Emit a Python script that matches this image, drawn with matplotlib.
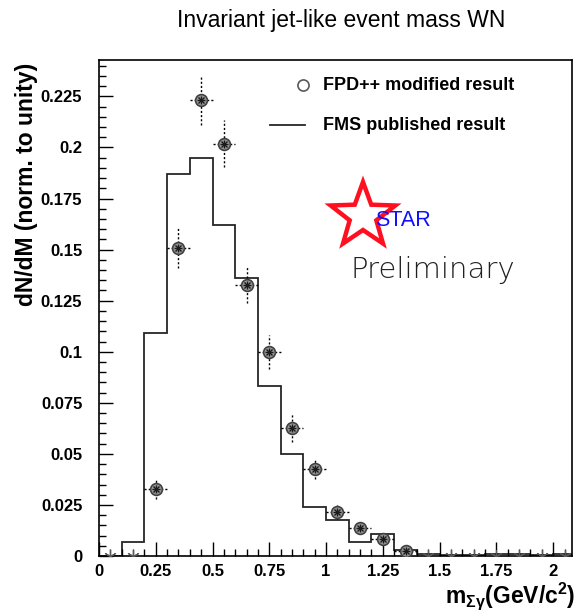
import numpy as np
import matplotlib
matplotlib.use("Agg")
import matplotlib.pyplot as plt
from matplotlib.ticker import MultipleLocator, FormatStrFormatter
from matplotlib.patches import Polygon

plt.rcParams['font.family'] = ['Liberation Sans', 'DejaVu Sans']
plt.rcParams['mathtext.fontset'] = 'custom'
plt.rcParams['mathtext.rm'] = 'Liberation Sans'
plt.rcParams['mathtext.it'] = 'Liberation Sans:italic'
plt.rcParams['mathtext.bf'] = 'Liberation Sans:bold'

# FMS published histogram, bins of 0.1 GeV/c^2 from 0 to 2.1
fms_edges = np.round(np.arange(0.0, 2.11, 0.1), 2)
fms_values = [0.0, 0.007, 0.109, 0.187, 0.195, 0.162, 0.136, 0.083, 0.050, 0.024,
              0.0175, 0.007, 0.0108, 0.003, 0.001, 0.0005, 0.0003, 0.001, 0.0012,
              0.0003, 0.0008]

# FPD++ modified result, bin centres with non-zero content
fpd_mass = [0.25, 0.35, 0.45, 0.55, 0.65, 0.75, 0.85, 0.95, 1.05, 1.15, 1.25, 1.35]
fpd_value = [0.0326, 0.151, 0.2232, 0.2018, 0.1328, 0.0997, 0.0625, 0.0427,
             0.0214, 0.0136, 0.0085, 0.0023]
fpd_err = [0.0049, 0.0101, 0.0120, 0.0116, 0.0090, 0.0084, 0.0068, 0.0050,
           0.0034, 0.0029, 0.0028, 0.0015]

# empty FPD++ bins sit on the axis
empty_mass = [0.05, 0.15, 1.45, 1.55, 1.65, 1.75, 1.85, 1.95, 2.05]
empty_value = [0.0] * len(empty_mass)

fig = plt.figure(figsize=(5.78, 6.14), dpi=100)
ax = fig.add_axes([99 / 578, 1 - 556 / 614, 473 / 578, 496 / 614])

ax.stairs(fms_values, fms_edges, color='0.15', lw=1.3, baseline=0)

# dotted error crosses
eb = ax.errorbar(fpd_mass, fpd_value, yerr=fpd_err, xerr=0.05, fmt='none',
                 ecolor='black', elinewidth=1.0, capsize=0)
for lc in eb[2]:
    lc.set_linestyle((0, (1.5, 1.5)))
ax.plot(fpd_mass, fpd_value, 'o', ms=8.5, mfc='0.6', mec='0.25', mew=1.2, zorder=4)
ax.plot(fpd_mass, fpd_value, 'x', ms=5, color='0.1', mew=1.0, zorder=5)
ax.plot(fpd_mass, fpd_value, '+', ms=6, color='0.1', mew=1.0, zorder=5)
ax.plot(empty_mass, empty_value, marker=(6, 2, 0), ls='none', ms=9,
        color='0.35', mew=0.8, zorder=3)

ax.set_xlim(0, 2.083)
ax.set_ylim(0, 0.2428)
ax.xaxis.set_major_locator(MultipleLocator(0.25))
ax.xaxis.set_minor_locator(MultipleLocator(0.05))
ax.yaxis.set_major_locator(MultipleLocator(0.025))
ax.yaxis.set_minor_locator(MultipleLocator(0.005))
ax.xaxis.set_major_formatter(FormatStrFormatter('%g'))
ax.yaxis.set_major_formatter(FormatStrFormatter('%g'))
ax.tick_params(which='both', direction='in', top=False, right=False)
ax.tick_params(which='major', length=10, width=1)
ax.tick_params(which='minor', length=5, width=1)
ax.tick_params(axis='x', pad=6)
ax.tick_params(axis='y', pad=12)
for lab in ax.get_xticklabels() + ax.get_yticklabels():
    lab.set_fontweight('bold')
    lab.set_fontsize(12)
for sp in ax.spines.values():
    sp.set_linewidth(1.2)

ax.set_ylabel('dN/dM (norm. to unity)', fontsize=16.5, fontweight='bold', loc='top')
ax.yaxis.set_label_coords(-0.128, 0.995)
fig.text(575 / 578, 1 - 603 / 614, r'm$_{\mathbf{\Sigma\gamma}}$(GeV/c$^{\mathbf{2}}$)',
         fontsize=16.5, fontweight='bold', ha='right', va='baseline')

fig.text(341 / 578, 1 - 20 / 614, 'Invariant jet-like event mass WN',
         fontsize=16.5, ha='center', va='center')

# legend
ax.plot([(303 - 99) / 473], [(556 - 85) / 496], 'o', ms=8, mfc='none', mec='0.35',
        mew=1.2, transform=ax.transAxes, clip_on=False)
ax.plot([(270 - 99) / 473, (305 - 99) / 473], [(556 - 125) / 496] * 2, color='0.15',
        lw=1.3, transform=ax.transAxes)
ax.text((323 - 99) / 473, (556 - 85) / 496, 'FPD++ modified result', transform=ax.transAxes,
        fontsize=13, fontweight='bold', va='center')
ax.text((323 - 99) / 473, (556 - 125) / 496, 'FMS published result', transform=ax.transAxes,
        fontsize=13, fontweight='bold', va='center')

# STAR logo: red star outline, blue label and "Preliminary"
cx, cy, r_out, r_in = 363, 216, 34, 14
ang = np.deg2rad(90 + 36 * np.arange(10))
rad = np.where(np.arange(10) % 2 == 0, r_out, r_in)
px = cx + rad * np.cos(ang)
py = cy - rad * np.sin(ang)
star_xy = np.column_stack([(px - 99) / 473, (556 - py) / 496])
ax.add_patch(Polygon(star_xy, closed=True, fill=False, ec='#ff1020', lw=3.2,
                     joinstyle='miter', transform=ax.transAxes))
ax.text((375 - 99) / 473, (556 - 220) / 496, 'STAR', transform=ax.transAxes,
        fontsize=15.5, color='#1010ff', va='center', ha='left')
ax.text((350 - 99) / 473, (556 - 270) / 496, 'Preliminary', transform=ax.transAxes,
        fontsize=21, color='#202020', va='center', ha='left', family='DejaVu Sans',
        fontweight='light')

fig.savefig('out.png', dpi=100)
